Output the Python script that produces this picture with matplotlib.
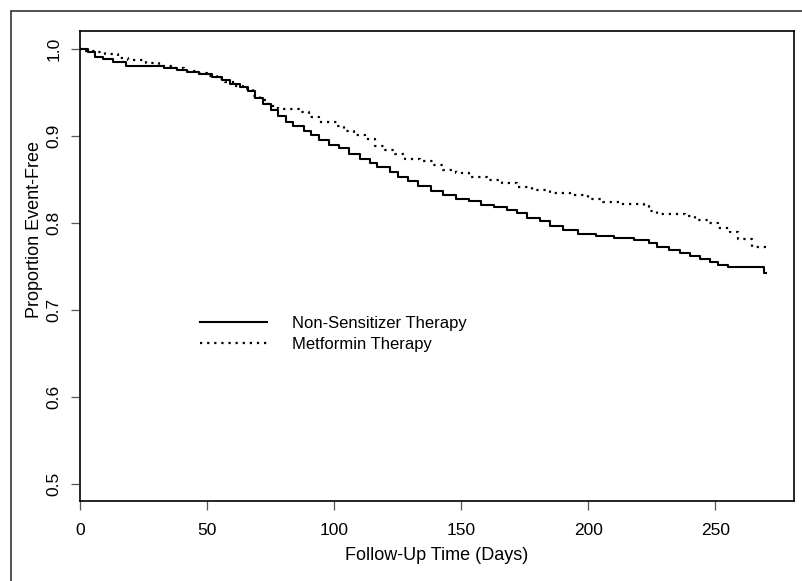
import matplotlib
matplotlib.use("Agg")
import matplotlib.pyplot as plt
from matplotlib.patches import Rectangle

plt.rcParams['font.family'] = ['Liberation Sans', 'DejaVu Sans']

# Kaplan-Meier estimates (days, proportion event-free)
non_sens_days = [0, 3, 6, 9, 13, 18, 33, 38, 42, 47, 52, 56, 59, 63, 66, 69, 72,
                 75, 78, 81, 84, 88, 91, 94, 98, 102, 106, 110, 114, 117, 122,
                 125, 129, 133, 138, 143, 148, 153, 158, 163, 168, 172, 176, 181,
                 185, 190, 196, 203, 210, 218, 224, 227, 232, 236, 240, 244, 248,
                 251, 255, 269, 270]
non_sens_surv = [1.0, 0.996, 0.991, 0.988, 0.985, 0.980, 0.978, 0.976, 0.974,
                 0.971, 0.968, 0.964, 0.960, 0.956, 0.952, 0.944, 0.937, 0.930,
                 0.923, 0.916, 0.911, 0.906, 0.901, 0.895, 0.890, 0.886, 0.879,
                 0.874, 0.869, 0.864, 0.859, 0.853, 0.848, 0.842, 0.837, 0.832,
                 0.828, 0.825, 0.821, 0.818, 0.815, 0.811, 0.806, 0.802, 0.797,
                 0.792, 0.787, 0.785, 0.783, 0.780, 0.777, 0.772, 0.769, 0.765,
                 0.762, 0.759, 0.755, 0.752, 0.749, 0.743, 0.743]

metformin_days = [0, 2, 6, 10, 15, 19, 26, 31, 36, 41, 46, 50, 54, 57, 61, 64,
                  68, 71, 74, 78, 86, 90, 94, 101, 104, 108, 112, 116, 120, 124,
                  128, 134, 139, 143, 148, 153, 160, 166, 172, 178, 185, 193, 200,
                  206, 213, 222, 224, 227, 238, 242, 247, 251, 256, 259, 264.5, 270]
metformin_surv = [1.0, 0.998, 0.996, 0.994, 0.990, 0.987, 0.984, 0.981, 0.978,
                  0.975, 0.972, 0.969, 0.966, 0.962, 0.958, 0.954, 0.946, 0.941,
                  0.935, 0.931, 0.928, 0.922, 0.916, 0.912, 0.906, 0.901, 0.896,
                  0.889, 0.884, 0.879, 0.874, 0.871, 0.867, 0.861, 0.857, 0.853,
                  0.850, 0.846, 0.841, 0.838, 0.835, 0.832, 0.828, 0.824, 0.822,
                  0.820, 0.814, 0.810, 0.808, 0.803, 0.800, 0.794, 0.790, 0.782,
                  0.772, 0.772]

x_ticks = [0, 50, 100, 150, 200, 250]
y_ticks = [0.5, 0.6, 0.7, 0.8, 0.9, 1.0]

fig = plt.figure(figsize=(8.03, 5.81), dpi=100)
ax = fig.add_axes([80 / 803, 80 / 581, 714 / 803, 470 / 581])

ax.step(non_sens_days, non_sens_surv, where='post', color='black', lw=1.5,
        label='Non-Sensitizer Therapy')
ax.step(metformin_days, metformin_surv, where='post', color='black', lw=1.6,
        linestyle=(0, (1, 2.2)), label='Metformin Therapy')

ax.set_xlim(0, 281)
ax.set_ylim(0.4805, 1.0207)
ax.set_xticks(x_ticks)
ax.set_yticks(y_ticks)
ax.set_xticklabels([str(t) for t in x_ticks])
ax.set_yticklabels([f"{t:.1f}" for t in y_ticks], rotation=90, va='center')
ax.tick_params(axis='both', direction='out', length=6.5, width=0.9,
               color='#555555', labelsize=12.5, colors='black')
ax.tick_params(axis='x', pad=9)
ax.tick_params(axis='y', pad=7)
for s in ax.spines.values():
    s.set_linewidth(1.2)

fig.text(437 / 803, 1 - 555 / 581, 'Follow-Up Time (Days)', ha='center',
         va='center', fontsize=13)
fig.text(35 / 803, 1 - 230 / 581, 'Proportion Event-Free', ha='center',
         va='center', rotation=90, fontsize=13)

ax.legend(frameon=False, loc='center left',
          bbox_to_anchor=(200 / 803, 1 - 334 / 581),
          bbox_transform=fig.transFigure, borderaxespad=0, borderpad=0,
          handlelength=4.0, handletextpad=1.5, labelspacing=0.35, fontsize=12)

# outer frame of the figure panel
fig.patches.append(Rectangle((11 / 803, -0.05), 1.1, 1 - 11 / 581 + 0.05,
                             transform=fig.transFigure, fill=False,
                             edgecolor='#333333', lw=1.2))

fig.savefig('out.png', dpi=100)
